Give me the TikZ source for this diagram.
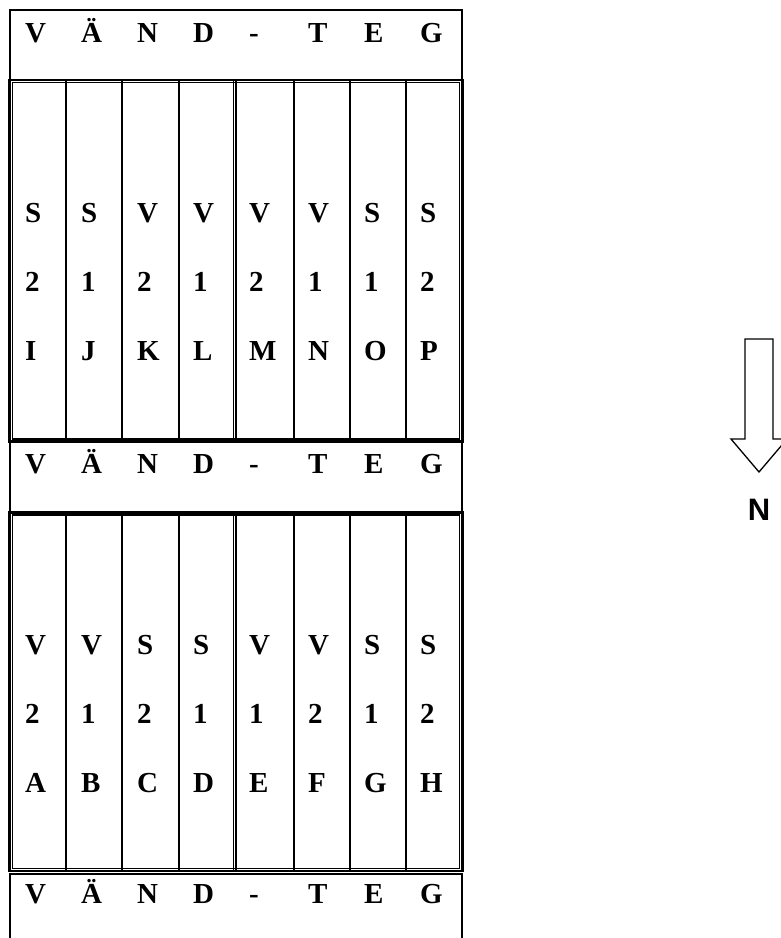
\documentclass[tikz,border=0pt]{standalone}
\usepackage{fontspec}
\setmainfont{Liberation Serif}
\newfontfamily\arialfont{Liberation Sans}
\newcommand\mygrid[2]{%
  \draw[line width=2.2pt] (9.5,#1) rectangle (462.5,#2);
  \draw[line width=1.2pt] (12.5,#1+2.5) rectangle (459.5,#2-2.5);
  \draw[line width=1.2pt] (233.3,#1) -- (233.3,#2);
  \draw[line width=1.2pt] (236,#1) -- (236,#2);
  \foreach \xx in {66,122,179,294,350,406} \draw[line width=1.6pt] (\xx,#1) -- (\xx,#2);
}
\begin{document}
\begin{tikzpicture}[x=1pt,y=-1pt,
  lbl/.style={anchor=base west,inner sep=0pt,font=\fontsize{29}{34}\selectfont\bfseries},
  frame/.style={line width=2pt}]
\useasboundingbox (0,0) rectangle (781,938);
\clip (0,0) rectangle (781,938);
% header boxes
\draw[frame] (10,10) rectangle (462,80);
\draw[frame] (10,441) rectangle (462,513);
\draw[frame] (10,938) -- (10,873);
\draw[line width=1.5pt] (10,874) -- (462,874);
\draw[frame] (462,873) -- (462,938);
% grids
\mygrid{80}{441.5}
\mygrid{512.5}{871}
% header texts
\foreach \x/\t [count=\i] in {25/V,81/Ä,137/N,193/D,249/-,308/T,364/E,420/G}{
  \node[lbl] (ha\i) at (\x,42) {\t};
  \node[lbl] (hb\i) at (\x,473) {\t};
  \node[lbl] (hc\i) at (\x,903) {\t};
}
% upper grid
\foreach \x/\a/\b/\c [count=\i] in {25/S/2/I,81/S/1/J,137/V/2/K,193/V/1/L,249/V/2/M,308/V/1/N,364/S/1/O,420/S/2/P}{
  \node[lbl] (ua\i) at (\x,222) {\a};
  \node[lbl] (ub\i) at (\x,291) {\b};
  \node[lbl] (uc\i) at (\x,360) {\c};
}
% lower grid
\foreach \x/\a/\b/\c [count=\i] in {25/V/2/A,81/V/1/B,137/S/2/C,193/S/1/D,249/V/1/E,308/V/2/F,364/S/1/G,420/S/2/H}{
  \node[lbl] (la\i) at (\x,654) {\a};
  \node[lbl] (lb\i) at (\x,723) {\b};
  \node[lbl] (lc\i) at (\x,792) {\c};
}
% north arrow
\draw[line width=1.3pt, line join=miter] (745,339) -- (773,339) -- (773,439) -- (787,439) -- (759,472) -- (731,439) -- (745,439) -- cycle;
\node[anchor=base, inner sep=0pt, font=\arialfont\bfseries\fontsize{31}{36}\selectfont] (north) at (759,520) {N};
\end{tikzpicture}
\end{document}
